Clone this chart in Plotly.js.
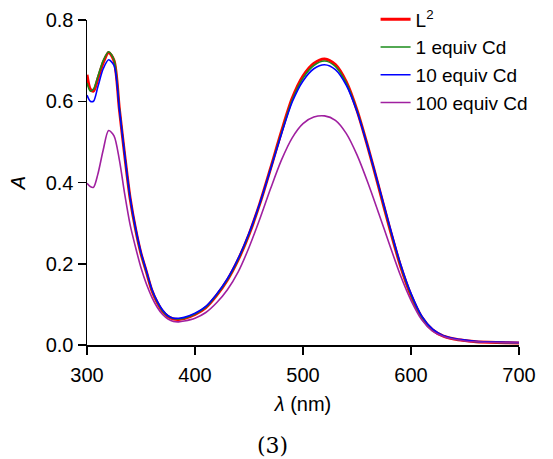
<!DOCTYPE html>
<html>
<head>
<meta charset="utf-8">
<script src="https://cdn.plot.ly/plotly-3.0.1.min.js"></script>
<style>html,body{margin:0;padding:0;background:#fff;}#chart{width:553px;height:459px;}</style>
</head>
<body>
<div id="chart"></div>
<script>
const wavelength = [300,303,306,310,315,320,325,330,335,340,345,350,355,360,365,370,375,380,385,390,400,410,420,430,440,450,460,470,480,490,500,510,520,530,540,550,560,570,580,590,600,610,620,630,640,650,660,680,700];
const seriesNames = ["L<sup>2</sup>", "1 equiv Cd", "10 equiv Cd", "100 equiv Cd"];
const absL2 = [0.665,0.630,0.625,0.655,0.695,0.720,0.700,0.580,0.465,0.360,0.285,0.225,0.180,0.135,0.105,0.083,0.070,0.064,0.063,0.065,0.075,0.092,0.122,0.160,0.210,0.272,0.348,0.435,0.525,0.607,0.662,0.693,0.704,0.690,0.648,0.578,0.488,0.390,0.290,0.197,0.122,0.068,0.037,0.022,0.015,0.011,0.008,0.006,0.005];
const abs1 = [0.645,0.625,0.630,0.660,0.700,0.722,0.702,0.582,0.466,0.360,0.285,0.225,0.180,0.136,0.106,0.084,0.071,0.065,0.064,0.066,0.076,0.093,0.123,0.161,0.211,0.273,0.348,0.434,0.522,0.603,0.657,0.688,0.699,0.686,0.645,0.577,0.488,0.391,0.292,0.199,0.124,0.069,0.038,0.022,0.015,0.011,0.008,0.006,0.005];
const abs10 = [0.615,0.600,0.600,0.635,0.680,0.702,0.688,0.580,0.466,0.362,0.288,0.228,0.183,0.138,0.108,0.086,0.072,0.066,0.066,0.068,0.078,0.095,0.125,0.163,0.213,0.275,0.349,0.433,0.519,0.598,0.650,0.680,0.690,0.678,0.640,0.575,0.488,0.393,0.295,0.202,0.127,0.071,0.039,0.023,0.016,0.012,0.009,0.007,0.006];
const abs100 = [0.398,0.390,0.388,0.420,0.480,0.528,0.515,0.455,0.370,0.295,0.240,0.190,0.150,0.118,0.093,0.075,0.064,0.058,0.057,0.059,0.066,0.080,0.104,0.136,0.180,0.240,0.310,0.385,0.455,0.510,0.545,0.561,0.564,0.553,0.521,0.468,0.400,0.325,0.248,0.173,0.110,0.062,0.034,0.021,0.014,0.010,0.008,0.006,0.005];

const colors = ["#ff0000", "#1a8c1a", "#0000ff", "#a020a0"];
const widths = [3, 1.6, 1.6, 1.6];
const ys = [absL2, abs1, abs10, abs100];

const traces = ys.map((y, i) => ({
  x: wavelength, y: y, type: "scatter", mode: "lines",
  name: seriesNames[i],
  line: {color: colors[i], width: widths[i], shape: "spline", smoothing: 0.8}
}));

const layout = {
  width: 553, height: 459,
  margin: {l: 87, r: 33.5, t: 20, b: 114, autoexpand: false},
  paper_bgcolor: "#fff", plot_bgcolor: "#fff",
  font: {family: "Liberation Sans, Arial, sans-serif", color: "#000", size: 20},
  showlegend: true,
  legend: {x: 0.668, xanchor: "left", y: 1.06, yanchor: "top", bgcolor: "rgba(0,0,0,0)",
           font: {size: 19, family: "Liberation Sans, Arial, sans-serif"}, tracegroupgap: 0},
  xaxis: {
    range: [300, 700], tickvals: [300, 400, 500, 600, 700], ticktext: ["300","400","500","600","700"],
    showgrid: false, zeroline: false, showline: true, linecolor: "#000", linewidth: 1.5,
    ticks: "outside", ticklen: 8, tickwidth: 1.5, tickcolor: "#000",
    tickfont: {size: 20}, ticklabelstandoff: 3,
    title: {text: "<i>λ</i> (nm)", font: {size: 20}, standoff: 12}
  },
  yaxis: {
    range: [0, 0.8], tickvals: [0, 0.2, 0.4, 0.6, 0.8], ticktext: ["0.0","0.2","0.4","0.6","0.8"],
    showgrid: false, zeroline: false, showline: true, linecolor: "#000", linewidth: 1.5,
    ticks: "outside", ticklen: 8, tickwidth: 1.5, tickcolor: "#000",
    tickfont: {size: 20},
    title: {text: "<i>A</i>", font: {size: 20}, standoff: 14}
  },
  annotations: [{
    text: "(3)", xref: "paper", yref: "paper", x: 0.43, y: -0.31, xanchor: "center", yanchor: "middle",
    showarrow: false, font: {family: "DejaVu Serif, Liberation Serif, serif", size: 22, color: "#000"}
  }]
};

Plotly.newPlot("chart", traces, layout, {displayModeBar: false, staticPlot: true});
</script>
</body>
</html>
